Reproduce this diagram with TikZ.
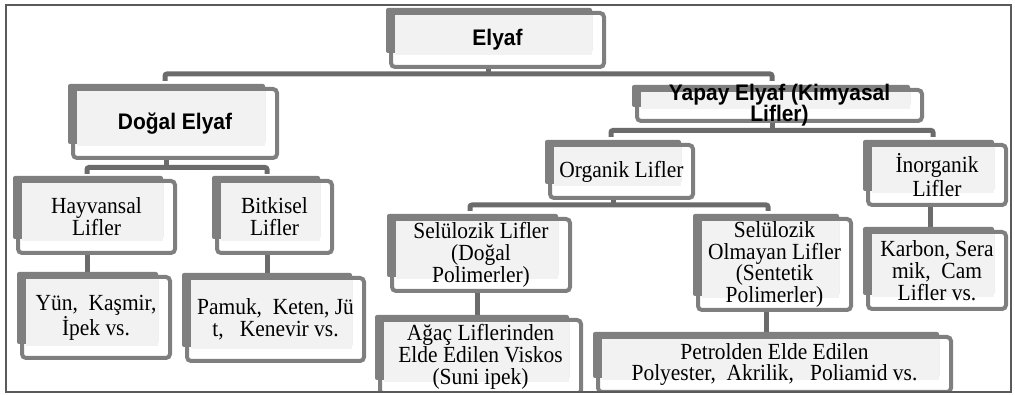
\documentclass[tikz,border=0pt]{standalone}
\usepackage{fontspec}
\setmainfont[FakeStretch=0.93]{Liberation Serif}
\newfontfamily\hsans[FakeStretch=0.93]{Liberation Sans}
\pgfdeclarelayer{back}
\pgfdeclarelayer{background}
\pgfsetlayers{back,background,main}
\definecolor{boxgray}{HTML}{7F7F7F}
\definecolor{innergray}{HTML}{F2F2F2}
\definecolor{bargray}{HTML}{6B6B6B}
\definecolor{framegray}{HTML}{5A5A5A}
\tikzset{
 sabox/.style={draw=boxgray, line width=3pt, rounded corners=3pt, inner sep=0pt},
 satext/.style={align=center, inner sep=0pt, font=\fontsize{17.3}{16.4}\selectfont},
 hdtext/.style={align=center, inner sep=0pt, font=\hsans\bfseries\fontsize{16.9}{15.8}\selectfont},
 conn/.style={draw=bargray, line width=3.75pt, rounded corners=1.5pt},
 frameline/.style={draw=framegray, line width=1.5pt},
}
\newcommand\smartbox[7]{%
 \node[sabox, minimum width={(#4-#2-7)*0.75pt}, minimum height={(#5-#3-7)*0.75pt}] (#1) at ({(#2+#4+3)/2},{(#3+#5+3)/2}) {};
 \node[#6] (#1-t) at (#1.center) {#7};
 \begin{pgfonlayer}{background}
  \fill[boxgray, rounded corners=1.5pt] (#2,#3) rectangle ({#4-14},{#5-16});
  \fill[innergray] ({#2+9},{#3+7}) rectangle ({#4-14},{#5-14});
 \end{pgfonlayer}}
\begin{document}
\begin{tikzpicture}[x=0.75pt,y=-0.75pt]
\useasboundingbox (0,0) rectangle (1015,395);
\begin{scope}
\clip (6,5) rectangle (1011,392);
\smartbox{elyaf}{386}{8}{606}{69}{hdtext}{Elyaf}
\smartbox{dogal}{68}{84}{279}{160}{hdtext}{Doğal Elyaf}
\smartbox{yapay}{632}{85}{924}{123}{hdtext}{Yapay Elyaf (Kimyasal\\Lifler)}
\smartbox{hay}{13}{176}{177}{255}{satext}{Hayvansal\\Lifler}
\smartbox{bit}{212}{176}{334}{255}{satext}{Bitkisel\\Lifler}
\smartbox{yun}{17}{272}{172}{360}{satext}{Yün,\ \ Kaşmir,\\İpek vs.}
\smartbox{pamuk}{182}{273}{366}{363}{satext}{Pamuk,\ \ Keten, Jü\\t,\ \ \ Kenevir vs.}
\smartbox{org}{545}{140}{695}{200}{satext}{Organik Lifler}
\smartbox{ino}{863}{140}{1008}{207}{satext}{İnorganik\\[2pt]Lifler}
\smartbox{sel}{387}{214}{572}{293}{satext}{Selülozik Lifler\\(Doğal\\Polimerler)}
\smartbox{olm}{693}{214}{853}{312}{satext}{Selülozik\\Olmayan Lifler\\(Sentetik\\Polimerler)}
\smartbox{karbon}{863}{227}{1008}{311}{satext}{Karbon, Sera\\mik,\ \ Cam\\Lifler vs.}
\smartbox{agac}{375}{315}{583}{396}{satext}{Ağaç Liflerinden\\Elde Edilen Viskos\\(Suni ipek)}
\smartbox{petrol}{593}{332}{953}{394}{satext}{Petrolden Elde Edilen\\Polyester,\ \ Akrilik,\ \ \ Poliamid vs.}
\begin{pgfonlayer}{back}
 \draw[conn] (elyaf.south -| 488,0) -- (488,74);
 \draw[conn] (165,81) -- (165,74) -- (772,74) -- (772,81);
 \draw[conn] (dogal.south -| 166,0) -- (166,167.5);
 \draw[conn] (87,174) -- (87,167.5) -- (267,167.5) -- (267,174);
 \draw[conn] (yapay.south -| 772,0) -- (772,130.5);
 \draw[conn] (611,137) -- (611,130.5) -- (933,130.5) -- (933,137);
 \draw[conn] (org.south -| 613,0) -- (613,205);
 \draw[conn] (470,211) -- (470,205) -- (768,205) -- (768,211);
 \draw[conn] (hay.south -| 87.5,0) -- (yun.north -| 87.5,0);
 \draw[conn] (bit.south -| 267,0) -- (pamuk.north -| 267,0);
 \draw[conn] (ino.south -| 930,0) -- (karbon.north -| 930,0);
 \draw[conn] (sel.south -| 477,0) -- (agac.north -| 477,0);
 \draw[conn] (olm.south -| 766,0) -- (petrol.north -| 766,0);
\end{pgfonlayer}
\end{scope}
\draw[frameline] (6,5) rectangle (1011,392);
\end{tikzpicture}
\end{document}
